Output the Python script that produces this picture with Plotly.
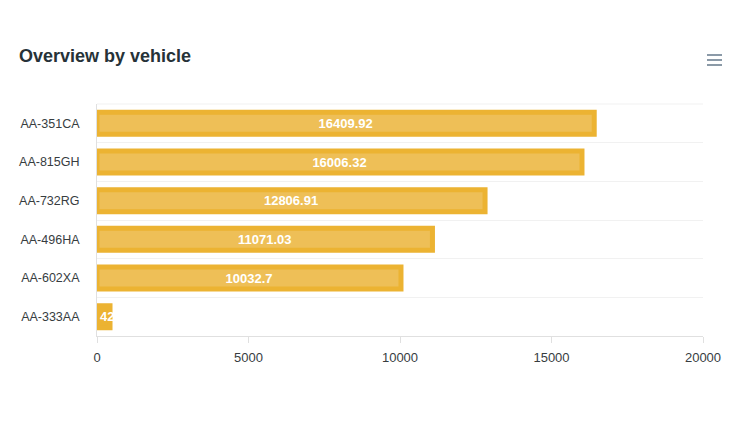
import plotly.graph_objects as go

vehicles = ["AA-351CA", "AA-815GH", "AA-732RG", "AA-496HA", "AA-602XA", "AA-333AA"]
values = [16409.92, 16006.32, 12806.91, 11071.03, 10032.7, 429.4]
x_ticks = [0, 5000, 10000, 15000, 20000]

W, H = 746, 431
L, R, T, B = 97, 703, 104, 336

fill_c = "#EEBF57"
line_c = "#ECB332"

big = [i for i, v in enumerate(values) if v >= 2000]
small = [i for i, v in enumerate(values) if v < 2000]

lbl_font = dict(family="Liberation Sans, Arial", size=13, color="white", weight="bold")

fig = go.Figure()
fig.add_trace(go.Bar(
    y=[vehicles[i] for i in big], x=[values[i] for i in big], orientation="h",
    marker=dict(color=fill_c, line=dict(color=line_c, width=5)),
    width=0.57,
    text=[str(values[i]) for i in big], textposition="inside", insidetextanchor="middle",
    constraintext="none", textangle=0,
    textfont=lbl_font,
    hoverinfo="skip",
))
fig.add_trace(go.Bar(
    y=[vehicles[i] for i in small], x=[values[i] for i in small], orientation="h",
    marker=dict(color=line_c, line=dict(color=line_c, width=5)),
    width=0.57,
    text=[str(values[i]) for i in small], textposition="inside", insidetextanchor="start",
    constraintext="none", textangle=0,
    textfont=lbl_font,
    hoverinfo="skip",
))

# top grid line
fig.add_shape(type="line", xref="paper", yref="paper", x0=0, x1=1, y0=1, y1=1,
              line=dict(color="#f1f1f1", width=1), layer="below")

# hamburger menu icon
for py in (55, 60, 65):
    fig.add_shape(type="line", xref="paper", yref="paper",
                  x0=(707 - L) / (R - L), x1=(722 - L) / (R - L),
                  y0=(B - py) / (B - T), y1=(B - py) / (B - T),
                  line=dict(color="#6E8192", width=1.6))

fig.update_layout(
    width=W, height=H,
    margin=dict(l=L, r=W - R, t=T, b=H - B, pad=0),
    paper_bgcolor="white", plot_bgcolor="white",
    showlegend=False, barmode="overlay",
    font=dict(family="Liberation Sans, Arial", size=12, color="#373d3f"),
    title=dict(text="<b>Overview by vehicle</b>", x=19 / W, xref="container", xanchor="left",
               y=1 - 56 / H, yref="container", yanchor="middle",
               font=dict(family="Liberation Sans, Arial", size=18, color="#263238")),
    xaxis=dict(range=[0, 20000], tickvals=x_ticks, ticktext=[str(t) for t in x_ticks],
               showgrid=False, zeroline=False, showline=True, linecolor="#e0e0e0", linewidth=1,
               ticks="outside", ticklen=6, tickcolor="#e0e0e0", ticklabelstandoff=3,
               tickfont=dict(size=13, color="#373d3f")),
    yaxis=dict(type="category", categoryorder="array", categoryarray=vehicles[::-1],
               tickson="boundaries", showgrid=True, gridcolor="#f1f1f1", gridwidth=1,
               showline=True, linecolor="#e0e0e0", linewidth=1, ticks="", zeroline=False,
               ticklabelstandoff=14, tickfont=dict(size=12.5, color="#373d3f")),
)

fig.write_html("out.html")
